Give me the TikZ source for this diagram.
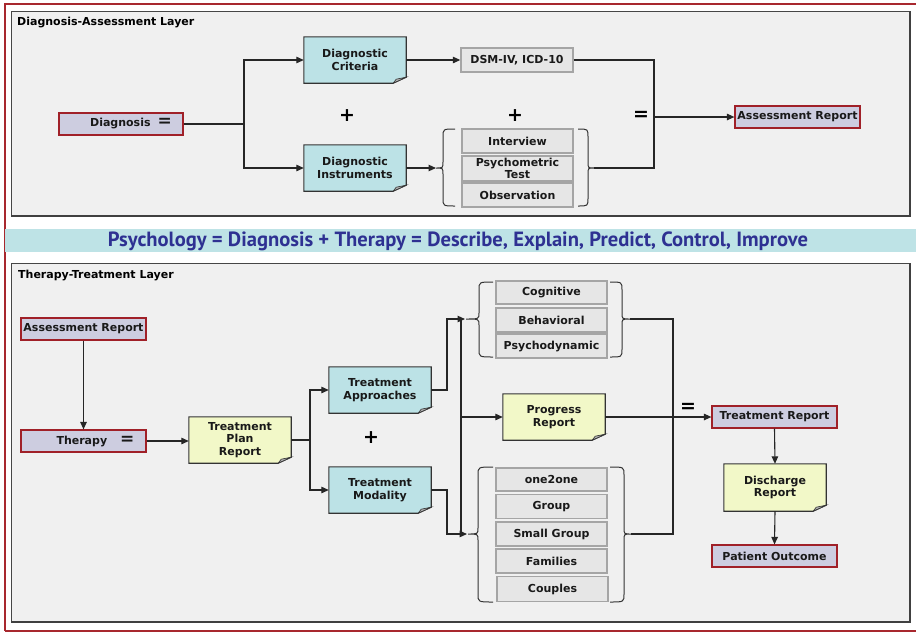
\documentclass[tikz,border=0pt]{standalone}
\usepackage{graphicx}
\usepackage{fontspec}
\setmainfont{DejaVu Sans}
\newfontfamily\titlefont{PT Sans}
\usetikzlibrary{arrows.meta,calc}

\definecolor{framered}{RGB}{168,40,46}
\definecolor{panelbg}{RGB}{240,240,240}
\definecolor{paneledge}{RGB}{70,70,70}
\definecolor{lavender}{RGB}{205,205,224}
\definecolor{boxred}{RGB}{160,32,40}
\definecolor{cyannote}{RGB}{188,226,230}
\definecolor{yellownote}{RGB}{242,248,200}
\definecolor{itemfill}{RGB}{230,230,230}
\definecolor{itemedge}{RGB}{165,165,165}
\definecolor{bandcyan}{RGB}{190,227,230}
\definecolor{titleblue}{RGB}{46,49,146}

\tikzset{
  base/.style={font=\fontsize{11}{12.8}\selectfont\bfseries, text=black!90, align=center, inner sep=0pt},
  report/.style={base, rectangle, fill=lavender, draw=boxred, line width=1.2pt, minimum width=125pt, minimum height=22pt},
  paper/.style={base, rectangle, fill=#1, minimum width=102pt, minimum height=46pt},
  item/.style={base, rectangle, fill=itemfill, draw=itemedge, line width=1.4pt, minimum width=111pt, minimum height=24pt},
  op/.style={font=\fontsize{19}{19}\selectfont\bfseries, inner sep=0pt},
  conn/.style={draw=black!85, line width=1.1pt},
  arr/.style={conn, -{Triangle[length=7.5pt,width=6.5pt]}},
  bracestyle/.style={draw=black!80, line width=1pt},
  layertitle/.style={font=\fontsize{11}{13}\selectfont\bfseries, anchor=west, inner sep=0pt},
}

% dog-eared corner for a paper node
\newcommand\foldcorner[1]{%
  \fill[panelbg] (#1.south east) -- ([yshift=6pt]#1.south east) -- ([xshift=-13pt]#1.south east) -- cycle;
  \draw[line width=1.1pt, draw=black!80] (#1.north west) -- (#1.north east) -- ([yshift=6pt]#1.south east)
     -- ([xshift=-13pt]#1.south east) -- (#1.south west) -- cycle;
  \filldraw[fill=black!30, draw=black!80, line width=0.6pt] ([yshift=6pt]#1.south east)
     -- ([xshift=-13pt]#1.south east) -- ([xshift=-10pt,yshift=4pt]#1.south east) -- cycle;
}
% curly brace: hook x, spine x, tip x, top y, bottom y, middle y
\newcommand\curlybrace[6]{%
  \draw[bracestyle] (#1,#4) .. controls (#2,#4) .. (#2,#4+8) -- (#2,#6-6)
     .. controls (#2,#6) .. (#3,#6) .. controls (#2,#6) .. (#2,#6+6)
     -- (#2,#5-8) .. controls (#2,#5) .. (#1,#5);
}
\newcommand\eqsign{{\fontsize{17}{15}\selectfont =}}

\begin{document}
\begin{tikzpicture}[x=1pt,y=-1pt]
\useasboundingbox (0,0) rectangle (916,633);
\fill[white] (0,0) rectangle (916,633);

% outer frame
\draw[framered, line width=2pt] (916,4) -- (4.5,4) -- (4.5,631);
\draw[framered, line width=1.4pt] (4.5,631) -- (916,631);

% panels
\fill[panelbg] (11,11) rectangle (910,216);
\draw[paneledge, line width=1pt] (11,11) rectangle (910,216);
\draw[black!75, line width=2pt] (11,216) -- (910,216) -- (910,11);

\fill[panelbg] (11,263) rectangle (910,622);
\draw[paneledge, line width=1pt] (11,263) rectangle (910,622);
\draw[black!75, line width=2pt] (11,622) -- (910,622) -- (910,263);

% headline band
\fill[bandcyan] (5,229) rectangle (916,252);
\node[inner sep=0pt, text=titleblue] (headline) at (458,241.5)
  {\resizebox{700pt}{!}{\titlefont\bfseries Psychology = Diagnosis + Therapy = Describe, Explain, Predict, Control, Improve}};

\node[layertitle] (toptitle) at (17,23) {Diagnosis-Assessment Layer};
\node[layertitle] (bottomtitle) at (18,276) {Therapy-Treatment Layer};

% ---------- diagnosis layer ----------
\node[report, minimum width=124pt] (diag) at (121,124) {\hspace*{20pt}Diagnosis\hspace{7pt}\eqsign};
\node[paper=cyannote] (crit) at (355,60) {Diagnostic\\Criteria};
\node[paper=cyannote] (instr) at (355,168) {Diagnostic\\Instruments};
\foldcorner{crit}
\foldcorner{instr}
\node[item, minimum width=112pt] (dsm) at (517,60) {DSM-IV, ICD-10};
\node[item] (interview) at (517.5,141) {Interview};
\node[item, minimum height=25pt, font=\fontsize{11}{11.5}\selectfont\bfseries] (psych) at (517.5,168.5) {Psychometric\\Test};
\node[item] (observ) at (517.5,195) {Observation};
\node[report] (assess) at (797.5,117) {Assessment Report};

\node[op] (plusA) at (347,116) {+};
\node[op] (plusB) at (515,116) {+};
\node[op] (eqA) at (641,116) {=};

\curlybrace{455}{443}{436}{129}{206}{168}
\curlybrace{578}{588}{594}{129}{206}{168}

\coordinate (j1) at (244,124);
\coordinate (lb1) at (436,168);
\coordinate (rb1) at (594,168);
\coordinate (j2) at (654,117);

\draw[conn] (diag.east) -- (j1);
\draw[arr] (j1) |- (crit.west);
\draw[arr] (j1) |- (instr.west);
\draw[arr] (crit.east) -- (dsm.west);
\draw[arr] (instr.east) -- (lb1);
\draw[conn] (dsm.east) -| (j2);
\draw[conn] (rb1) -| (j2);
\draw[arr] (j2) -- (assess.west);

% ---------- therapy layer ----------
\node[report] (assess2) at (83.5,329) {Assessment Report};
\node[report] (therapy) at (83.5,441) {\hspace*{24pt}Therapy\hspace{13pt}\eqsign};
\node[paper=yellownote] (plan) at (240,440) {Treatment\\Plan\\Report};
\node[paper=cyannote] (appr) at (380,390) {Treatment\\Approaches};
\node[paper=cyannote] (modal) at (380,490) {Treatment\\Modality};
\node[paper=yellownote] (progress) at (554,417) {Progress\\Report};
\node[paper=yellownote, minimum height=47pt] (discharge) at (775,487.5) {Discharge\\Report};
\foldcorner{plan}
\foldcorner{appr}
\foldcorner{modal}
\foldcorner{progress}
\foldcorner{discharge}

\node[item, minimum height=23pt] (cognitive) at (551.5,292.5) {Cognitive};
\node[item] (behavioral) at (551.5,320) {Behavioral};
\node[item] (psychodyn) at (551.5,346) {Psychodynamic};

\node[item, minimum height=23pt] (one) at (551.5,479.5) {one2one};
\node[item] (group) at (551.5,506.5) {Group};
\node[item] (small) at (551.5,534) {Small Group};
\node[item] (families) at (551.5,561) {Families};
\node[item, minimum height=25pt] (couples) at (552.5,589) {Couples};

\node[report] (treat) at (774.5,417) {Treatment Report};
\node[report] (outcome) at (774.5,556) {Patient Outcome};

\node[op] (plusC) at (371,438) {+};
\node[op] (eqB) at (688,408) {=};

\curlybrace{493}{479}{466}{282}{357}{319}
\curlybrace{610}{622}{630}{282}{357}{319}
\curlybrace{493}{478}{468}{467}{602}{534}
\curlybrace{610}{624}{631}{467}{602}{534}

\coordinate (j3) at (310,440);
\coordinate (k1) at (447,319);
\coordinate (tb) at (465,319);
\coordinate (k2) at (447,534);
\coordinate (mb) at (467,534);
\coordinate (vtop) at (461,319);
\coordinate (vbot) at (461,534);
\coordinate (vmid) at (461,417);
\coordinate (rt1) at (630,319);
\coordinate (rt2) at (631,534);
\coordinate (k3) at (673,319);
\coordinate (k4) at (673,534);

\draw[arr] (assess2.south) -- (therapy.north);
\draw[arr] (therapy.east) -- (therapy.east -| plan.west);
\draw[conn] (plan.east) -- (j3);
\draw[arr] (j3) |- (appr.west);
\draw[arr] (j3) |- (modal.west);
\draw[arr] (appr.east) -| (k1) -- (tb);
\draw[arr] (modal.east) -| (k2) -- (mb);
\draw[conn] (vtop) -- (vbot);
\draw[arr] (vmid) -- (progress.west);
\draw[conn] (rt1) -- (k3) -- (k4) -- (rt2);
\draw[arr] (progress.east) -- (treat.west);
\draw[arr] (treat.south) -- (discharge.north);
\draw[arr] (discharge.south) -- (outcome.north);
\end{tikzpicture}
\end{document}
